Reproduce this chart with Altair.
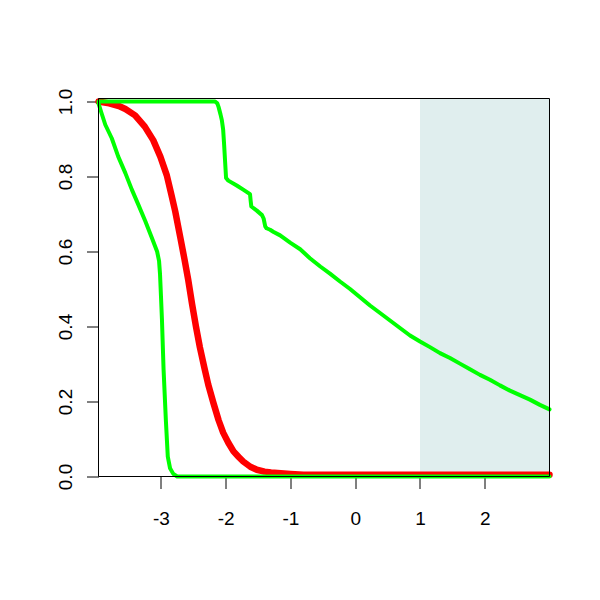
import altair as alt
import pandas as pd

# ---- data ----
red_x = [-3.965, -3.80, -3.65, -3.55, -3.40, -3.25, -3.12, -3.01, -2.91, -2.84, -2.78, -2.70,
         -2.64, -2.58, -2.52, -2.46, -2.40, -2.33, -2.27, -2.19, -2.11, -2.04, -1.96, -1.88,
         -1.80, -1.73, -1.62, -1.52, -1.40, -1.30, -1.15, -1.00, -0.80, 3.00]
red_y = [1.0, 0.995, 0.988, 0.980, 0.963, 0.933, 0.897, 0.853, 0.803, 0.752, 0.707, 0.636,
         0.582, 0.525, 0.460, 0.400, 0.345, 0.290, 0.245, 0.196, 0.150, 0.117, 0.090, 0.067,
         0.052, 0.040, 0.026, 0.018, 0.013, 0.011, 0.009, 0.007, 0.005, 0.005]

green_a_x = [-3.965, -3.92, -3.86, -3.76, -3.66, -3.55, -3.45, -3.35, -3.24, -3.14, -3.06,
             -3.03, -3.015, -3.00, -2.985, -2.96, -2.925, -2.895, -2.86, -2.81, -2.75, 3.00]
green_a_y = [0.995, 0.970, 0.938, 0.902, 0.853, 0.809, 0.765, 0.725, 0.680, 0.636, 0.600,
             0.575, 0.540, 0.480, 0.418, 0.285, 0.151, 0.053, 0.022, 0.007, 0.0, 0.0]

green_b_x = [-3.965, -2.165, -2.13, -2.11, -2.08, -2.06, -2.04, -2.025, -2.01, -1.995, -1.96,
             -1.83, -1.73, -1.625, -1.615, -1.605, -1.52, -1.44, -1.415, -1.39, -1.37, -1.315,
             -1.26, -1.16, -1.0, -0.85, -0.70, -0.54, -0.39, -0.235, -0.08, 0.074, 0.228,
             0.383, 0.537, 0.691, 0.846, 1.0, 1.154, 1.309, 1.463, 1.617, 1.772, 1.926, 2.08,
             2.235, 2.389, 2.543, 2.698, 2.852, 3.0]
green_b_y = [1.0, 1.0, 0.995, 0.985, 0.965, 0.950, 0.925, 0.885, 0.840, 0.796, 0.789,
             0.776, 0.765, 0.753, 0.735, 0.720, 0.709, 0.697, 0.688, 0.667, 0.662, 0.658,
             0.652, 0.643, 0.623, 0.606, 0.582, 0.560, 0.541, 0.520, 0.500, 0.478, 0.456,
             0.436, 0.416, 0.396, 0.376, 0.360, 0.345, 0.329, 0.316, 0.301, 0.286, 0.271, 0.258,
             0.243, 0.229, 0.217, 0.205, 0.191, 0.179]

shade_start = [1.0]
shade_end = [3.0]

x_ticks = [-3, -2, -1, 0, 1, 2]
y_ticks = [0.0, 0.2, 0.4, 0.6, 0.8, 1.0]

# ---- chart ----
W, H = 451, 378
xs = alt.Scale(domain=[-3.965, 3.0], nice=False, zero=False)
ys = alt.Scale(domain=[0, 1.008], nice=False, zero=False)

x_axis = alt.Axis(values=x_ticks, title=None, labelExpr="toString(datum.value)",
                  labelBaseline="alphabetic", labelPadding=35.5, labelAngle=0)
y_axis = alt.Axis(values=y_ticks, title=None, format=".1f", labelAngle=270,
                  labelAlign="center", labelBaseline="alphabetic", labelPadding=15)


def line_df(xv, yv):
    return pd.DataFrame({"x": xv, "y": yv, "o": list(range(len(xv)))})


shade = alt.Chart(pd.DataFrame({"x0": shade_start, "x1": shade_end})).mark_rect(
    color="#E0EEEE", clip=True
).encode(
    x=alt.X("x0:Q", scale=xs, axis=x_axis),
    x2="x1:Q",
    y=alt.value(0),
    y2=alt.value(H),
)


def make_line(df, color, width):
    return alt.Chart(df).mark_line(
        color=color, strokeWidth=width, strokeCap="round", strokeJoin="round"
    ).encode(
        x=alt.X("x:Q", scale=xs, axis=x_axis),
        y=alt.Y("y:Q", scale=ys, axis=y_axis),
        order="o:Q",
    )


red = make_line(line_df(red_x, red_y), "#FF0000", 6.5)
ga = make_line(line_df(green_a_x, green_a_y), "#00FF00", 4)
gb = make_line(line_df(green_b_x, green_b_y), "#00FF00", 4)

frame = alt.Chart(pd.DataFrame({"a": [0]})).mark_rect(
    filled=False, stroke="black", strokeWidth=1
).encode(x=alt.value(0), x2=alt.value(W), y=alt.value(0), y2=alt.value(H))

chart = alt.layer(shade, red, ga, gb, frame).properties(
    width=W, height=H,
    autosize=alt.AutoSizeParams(type="none"),
    padding={"left": 90.5, "top": 90.5, "right": 10, "bottom": 60},
).configure_view(stroke=None).configure_axis(
    labelFont="Liberation Sans", labelFontSize=19, labelColor="black",
    tickColor="black", tickSize=12, tickWidth=1, domain=False, grid=False,
)

chart.save("out.html", embed_options={"renderer": "svg", "actions": False})
